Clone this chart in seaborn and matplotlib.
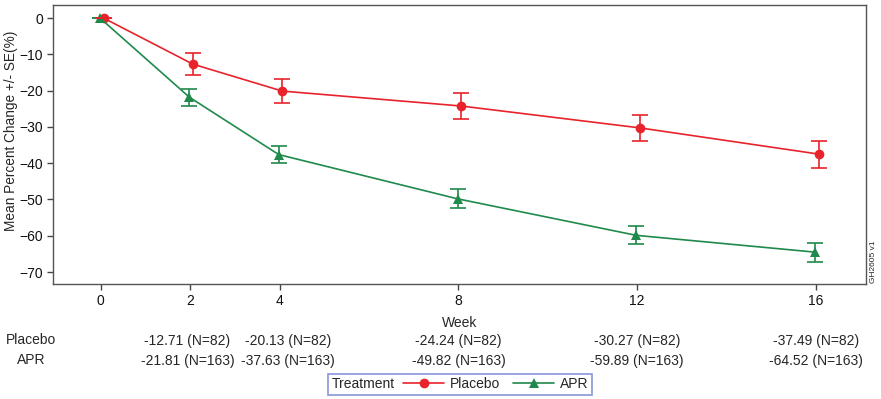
import pandas as pd
import seaborn as sns
import matplotlib.pyplot as plt
import numpy as np
from matplotlib.offsetbox import HPacker

# ----------- Data ---------------------
weeks = [0, 2, 4, 8, 12, 16]
placebo_mean = [0, -12.71, -20.13, -24.24, -30.27, -37.49]
placebo_se = [0, 3.0, 3.4, 3.5, 3.5, 3.7]
placebo_n = [82, 82, 82, 82, 82]
apr_mean = [0, -21.81, -37.63, -49.82, -59.89, -64.52]
apr_se = [0, 2.3, 2.4, 2.6, 2.5, 2.6]
apr_n = [163, 163, 163, 163, 163]

red = '#e8232b'
green = '#1f8a4b'

df = pd.concat([
    pd.DataFrame({'Week': weeks, 'Mean': placebo_mean, 'SE': placebo_se, 'Treatment': 'Placebo'}),
    pd.DataFrame({'Week': weeks, 'Mean': apr_mean, 'SE': apr_se, 'Treatment': 'APR'}),
], ignore_index=True)
# small horizontal dodge, like the original
df['x'] = df['Week'] + df['Treatment'].map({'Placebo': 0.06, 'APR': -0.02})

# ----------- Plot ---------------------
sns.set_style('white')
plt.rcParams['font.family'] = ['Liberation Sans', 'DejaVu Sans']
fs = 10

fig = plt.figure(figsize=(8.81, 3.99), dpi=100)
ax = fig.add_axes([0.0602, 0.2882, 0.9228, 0.6993])

pal = {'Placebo': red, 'APR': green}
sns.lineplot(data=df, x='x', y='Mean', hue='Treatment', style='Treatment',
             markers={'Placebo': 'o', 'APR': '^'}, dashes=False, palette=pal,
             markersize=7, markeredgewidth=0, linewidth=1.2, ax=ax, legend=False)
for trt, g in df.groupby('Treatment'):
    ax.errorbar(g['x'], g['Mean'], yerr=g['SE'], fmt='none', ecolor=pal[trt],
                elinewidth=1.2, capsize=6, capthick=1.2)

ax.set_xlim(-1.07, 17.12)
ax.set_ylim(-73.3, 3.6)
ax.set_xticks(weeks)
ax.set_yticks(np.arange(0, -71, -10))
ax.tick_params(axis='both', length=4, width=1, color='#444444', labelsize=fs,
               labelcolor='#111111', direction='out', bottom=True, left=True, pad=3)
for s in ax.spines.values():
    s.set_color('#555555')
    s.set_linewidth(1)
ax.set_xlabel('Week', fontsize=fs, labelpad=6)
ax.set_ylabel('Mean Percent Change +/- SE(%)', fontsize=9.8)
ax.yaxis.set_label_coords(-0.043, 0.55)

# table of values below the axis (weeks 2 and 4 nudged apart so they don't collide)
nudge = {2: -2, 4: 6}
for i, w in enumerate(weeks[1:]):
    dx = nudge.get(w, 0)
    ax.annotate(f'{placebo_mean[i + 1]:.2f} (N={placebo_n[i]})', (w, -0.205),
                xycoords=('data', 'axes fraction'), xytext=(dx, 0), textcoords='offset points',
                ha='center', va='center', fontsize=fs)
    ax.annotate(f'{apr_mean[i + 1]:.2f} (N={apr_n[i]})', (w, -0.277),
                xycoords=('data', 'axes fraction'), xytext=(dx, 0), textcoords='offset points',
                ha='center', va='center', fontsize=fs)
fig.text(0.007, 0.147, 'Placebo', ha='left', va='center', fontsize=fs)
fig.text(0.052, 0.097, 'APR', ha='right', va='center', fontsize=fs)

# legend
handles = [
    plt.Line2D([], [], color=red, marker='o', markersize=7, markeredgewidth=0, lw=1.2),
    plt.Line2D([], [], color=green, marker='^', markersize=7, markeredgewidth=0, lw=1.2),
]
leg = fig.legend(handles, ['Placebo', 'APR'], title='Treatment', ncol=2,
                 loc='center', bbox_to_anchor=(0.522, 0.037), fontsize=fs,
                 title_fontsize=fs, frameon=True, fancybox=False,
                 handlelength=3.0, columnspacing=0.9, handletextpad=0.4,
                 borderpad=0.25, borderaxespad=0)
leg.get_frame().set_edgecolor('#6a7bd0')
leg.get_frame().set_linewidth(1.2)
# put title inline to the left
title_box = leg._legend_box._children[0]
body = leg._legend_box._children[1]
leg._legend_box._children = [HPacker(children=[title_box, body], pad=0, sep=6, align='center')]

fig.text(0.991, 0.345, 'GH2605 v1', rotation=90, fontsize=6, ha='center', va='center')

fig.savefig('out.png', dpi=100)
